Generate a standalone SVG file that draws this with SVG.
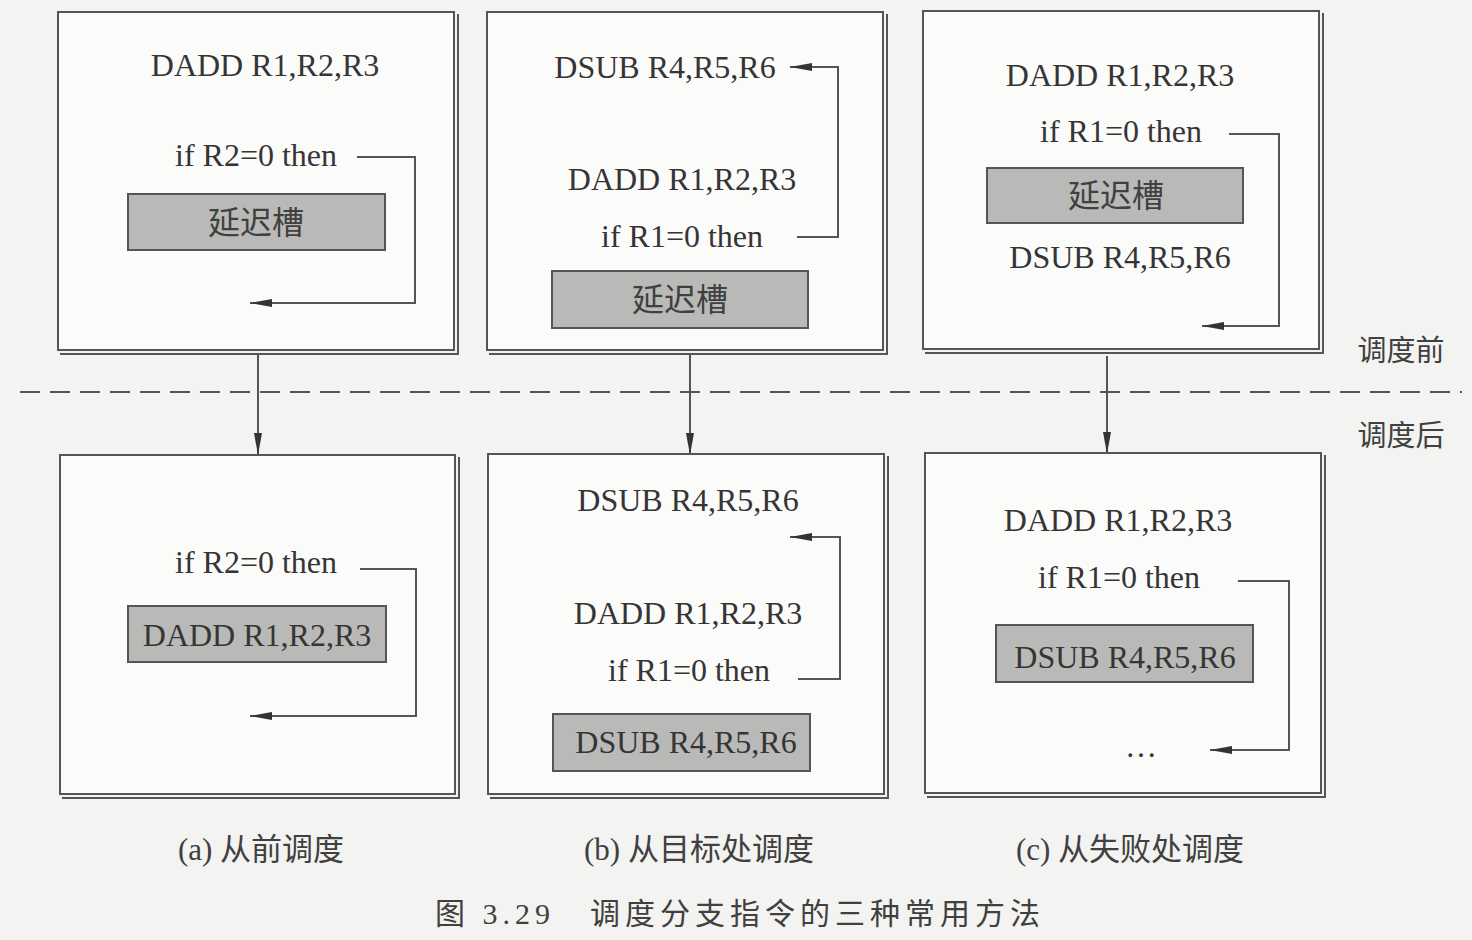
<svg xmlns="http://www.w3.org/2000/svg" width="1472" height="940" viewBox="0 0 1472 940">
<defs>
<marker id="ahs" viewBox="0 0 10 10" refX="10" refY="5" markerWidth="22" markerHeight="10" markerUnits="userSpaceOnUse" orient="auto" preserveAspectRatio="none">
<path d="M0,1 L10,5 L0,9 z" fill="#333"/>
</marker>
<marker id="ahv" viewBox="0 0 10 10" refX="10" refY="5" markerWidth="22" markerHeight="10" markerUnits="userSpaceOnUse" orient="auto" preserveAspectRatio="none">
<path d="M0,1 L10,5 L0,9 z" fill="#333"/>
</marker>
</defs>
<style>
.box{fill:#fbfbfa;stroke:#555;stroke-width:2}
.sh{fill:none;stroke:#555;stroke-width:2}
.gray{fill:#b9b9b7;stroke:#555;stroke-width:2}
.t{font-family:"Liberation Serif","Noto Sans CJK SC",serif;font-size:32px;fill:#353535;text-anchor:middle}
.c{font-family:"Noto Sans CJK SC",sans-serif;font-size:32px;fill:#404040;text-anchor:middle}
.lbl{font-family:"Noto Sans CJK SC",sans-serif;font-size:29px;fill:#404040;text-anchor:middle}
.cap{font-family:"Liberation Serif","Noto Sans CJK SC",serif;font-size:31px;fill:#404040;text-anchor:middle}
.ln{fill:none;stroke:#555;stroke-width:2}
</style>
<rect x="0" y="0" width="1472" height="940" fill="#f3f3f1"/>

<g id="connectors">
<line x1="20" y1="392" x2="1462" y2="392" stroke="#555" stroke-width="2" stroke-dasharray="20,10"/>
<line x1="258" y1="355" x2="258" y2="455" class="ln" marker-end="url(#ahv)"/>
<line x1="690" y1="355" x2="690" y2="455" class="ln" marker-end="url(#ahv)"/>
<line x1="1107" y1="356" x2="1107" y2="454" class="ln" marker-end="url(#ahv)"/>
</g>

<g id="box-a-before">
<rect class="box" x="58" y="12" width="396" height="338"/>
<polyline class="sh" points="458,14 458,354 60,354"/>
<text class="t" x="265" y="76">DADD R1,R2,R3</text>
<text class="t" x="256" y="166">if R2=0 then</text>
<rect class="gray" x="128" y="194" width="257" height="56"/>
<text class="c" x="256" y="234">延迟槽</text>
<polyline class="ln" points="357,157 415,157 415,303 250,303" marker-end="url(#ahs)"/>
</g>

<g id="box-b-before">
<rect class="box" x="487" y="12" width="396" height="338"/>
<polyline class="sh" points="887,14 887,354 489,354"/>
<text class="t" x="665" y="78">DSUB R4,R5,R6</text>
<text class="t" x="682" y="190">DADD R1,R2,R3</text>
<text class="t" x="682" y="247">if R1=0 then</text>
<polyline class="ln" points="797,237 838,237 838,67 790,67" marker-end="url(#ahs)"/>
<rect class="gray" x="552" y="271" width="256" height="57"/>
<text class="c" x="680" y="311">延迟槽</text>
</g>

<g id="box-c-before">
<rect class="box" x="923" y="11" width="396" height="338"/>
<polyline class="sh" points="1323,13 1323,353 925,353"/>
<text class="t" x="1120" y="86">DADD R1,R2,R3</text>
<text class="t" x="1121" y="142">if R1=0 then</text>
<polyline class="ln" points="1229,134 1279,134 1279,326 1202,326" marker-end="url(#ahs)"/>
<rect class="gray" x="987" y="168" width="256" height="55"/>
<text class="c" x="1116" y="207">延迟槽</text>
<text class="t" x="1120" y="268">DSUB R4,R5,R6</text>
</g>

<g id="label-before"><text class="lbl" x="1401" y="361">调度前</text></g>
<g id="label-after"><text class="lbl" x="1401" y="446">调度后</text></g>

<g id="box-a-after">
<rect class="box" x="60" y="455" width="395" height="339"/>
<polyline class="sh" points="459,457 459,798 62,798"/>
<text class="t" x="256" y="573">if R2=0 then</text>
<polyline class="ln" points="360,569 416,569 416,716 250,716" marker-end="url(#ahs)"/>
<rect class="gray" x="128" y="606" width="258" height="56"/>
<text class="t" x="257" y="646">DADD R1,R2,R3</text>
</g>

<g id="box-b-after">
<rect class="box" x="488" y="454" width="396" height="340"/>
<polyline class="sh" points="888,456 888,798 490,798"/>
<text class="t" x="688" y="511">DSUB R4,R5,R6</text>
<polyline class="ln" points="798,679 840,679 840,537 790,537" marker-end="url(#ahs)"/>
<text class="t" x="688" y="624">DADD R1,R2,R3</text>
<text class="t" x="689" y="681">if R1=0 then</text>
<rect class="gray" x="553" y="714" width="257" height="57"/>
<text class="t" x="686" y="753">DSUB R4,R5,R6</text>
</g>

<g id="box-c-after">
<rect class="box" x="925" y="453" width="396" height="340"/>
<polyline class="sh" points="1325,455 1325,797 927,797"/>
<text class="t" x="1118" y="531">DADD R1,R2,R3</text>
<text class="t" x="1119" y="588">if R1=0 then</text>
<polyline class="ln" points="1238,581 1289,581 1289,750 1210,750" marker-end="url(#ahs)"/>
<rect class="gray" x="996" y="625" width="257" height="57"/>
<text class="t" x="1125" y="668">DSUB R4,R5,R6</text>
<text class="t" x="1141" y="757">…</text>
</g>

<g id="captions">
<text class="cap" x="261" y="860">(a) 从前调度</text>
<text class="cap" x="699" y="860">(b) 从目标处调度</text>
<text class="cap" x="1130" y="860">(c) 从失败处调度</text>
<text class="cap" x="740" y="924" style="font-size:30px;letter-spacing:5px">图 3.29　调度分支指令的三种常用方法</text>
</g>
</svg>
